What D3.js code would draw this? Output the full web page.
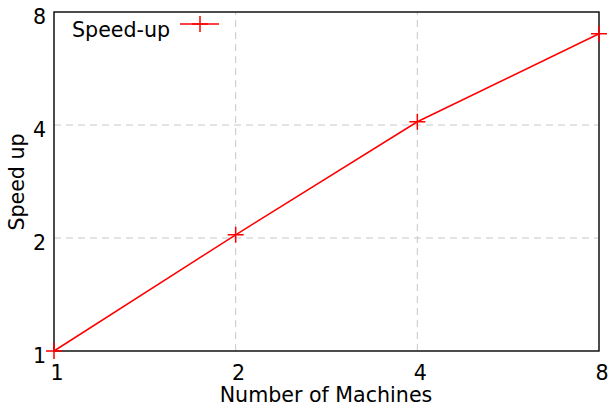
<!DOCTYPE html>
<html><head><meta charset="utf-8">
<script src="https://cdn.jsdelivr.net/npm/d3@7"></script>
<style>body{margin:0;background:#fff}svg{display:block}text{font-family:"DejaVu Sans",Verdana,sans-serif;fill:#000}</style>
</head><body>
<script>
const machines = [1, 2, 4, 8];
const speedup = [1, 2.04, 4.08, 7.0];
const xTicks = [1, 2, 4, 8];
const yTicks = [1, 2, 4, 8];
const seriesName = "Speed-up";

const W = 609, H = 411;
const m = {left: 54, right: 10, top: 12, bottom: 60};
const FS = 20.6;
const svg = d3.select("body").append("svg").attr("width", W).attr("height", H);
const x = d3.scaleLog().base(2).domain([1, 8]).range([m.left, W - m.right]);
const y = d3.scaleLog().base(2).domain([1, 8]).range([H - m.bottom, m.top]);

// grid
svg.append("g").selectAll("line").data(xTicks.slice(1, -1)).join("line")
  .attr("x1", d => x(d)).attr("x2", d => x(d)).attr("y1", y(1)).attr("y2", y(8))
  .attr("stroke", "#c8c8c8").attr("stroke-width", 1).attr("stroke-dasharray", "7,5");
svg.append("g").selectAll("line").data(yTicks.slice(1, -1)).join("line")
  .attr("y1", d => y(d)).attr("y2", d => y(d)).attr("x1", x(1)).attr("x2", x(8))
  .attr("stroke", "#c8c8c8").attr("stroke-width", 1).attr("stroke-dasharray", "7,5");

// border
svg.append("rect").attr("x", x(1)).attr("y", y(8)).attr("width", x(8) - x(1)).attr("height", y(1) - y(8))
  .attr("fill", "none").attr("stroke", "#000").attr("stroke-width", 1.4);

// tick labels
svg.append("g").selectAll("text").data(xTicks).join("text")
  .attr("x", d => x(d) + 3).attr("y", y(1) + 29).attr("text-anchor", "middle")
  .attr("font-size", FS).text(d => d);
svg.append("g").selectAll("text").data(yTicks).join("text")
  .attr("x", x(1) - 8).attr("y", d => y(d) + 12).attr("text-anchor", "end")
  .attr("font-size", FS).text(d => d);

// axis titles
svg.append("text").attr("x", 326).attr("y", 402).attr("text-anchor", "middle")
  .attr("font-size", FS).text("Number of Machines");
svg.append("text").attr("transform", "translate(24,182) rotate(-90)").attr("text-anchor", "middle")
  .attr("font-size", FS).text("Speed up");

// line
const pts = machines.map((d, i) => [d, speedup[i]]);
svg.append("path").datum(pts)
  .attr("d", d3.line().x(d => x(d[0])).y(d => y(d[1])))
  .attr("fill", "none").attr("stroke", "#f00").attr("stroke-width", 1.5);
const cross = (g, cx, cy, s) => {
  g.append("path").attr("d", `M${cx - s},${cy}H${cx + s}M${cx},${cy - s}V${cy + s}`)
    .attr("stroke", "#f00").attr("stroke-width", 1.5).attr("fill", "none");
};
const mk = svg.append("g");
pts.forEach(p => cross(mk, x(p[0]), y(p[1]), 8));

// legend
svg.append("text").attr("x", 72).attr("y", 37).attr("font-size", FS).text(seriesName);
svg.append("line").attr("x1", 180).attr("x2", 219).attr("y1", 24).attr("y2", 24)
  .attr("stroke", "#f00").attr("stroke-width", 1.5);
cross(svg, 200, 24, 8);
</script>
</body></html>
